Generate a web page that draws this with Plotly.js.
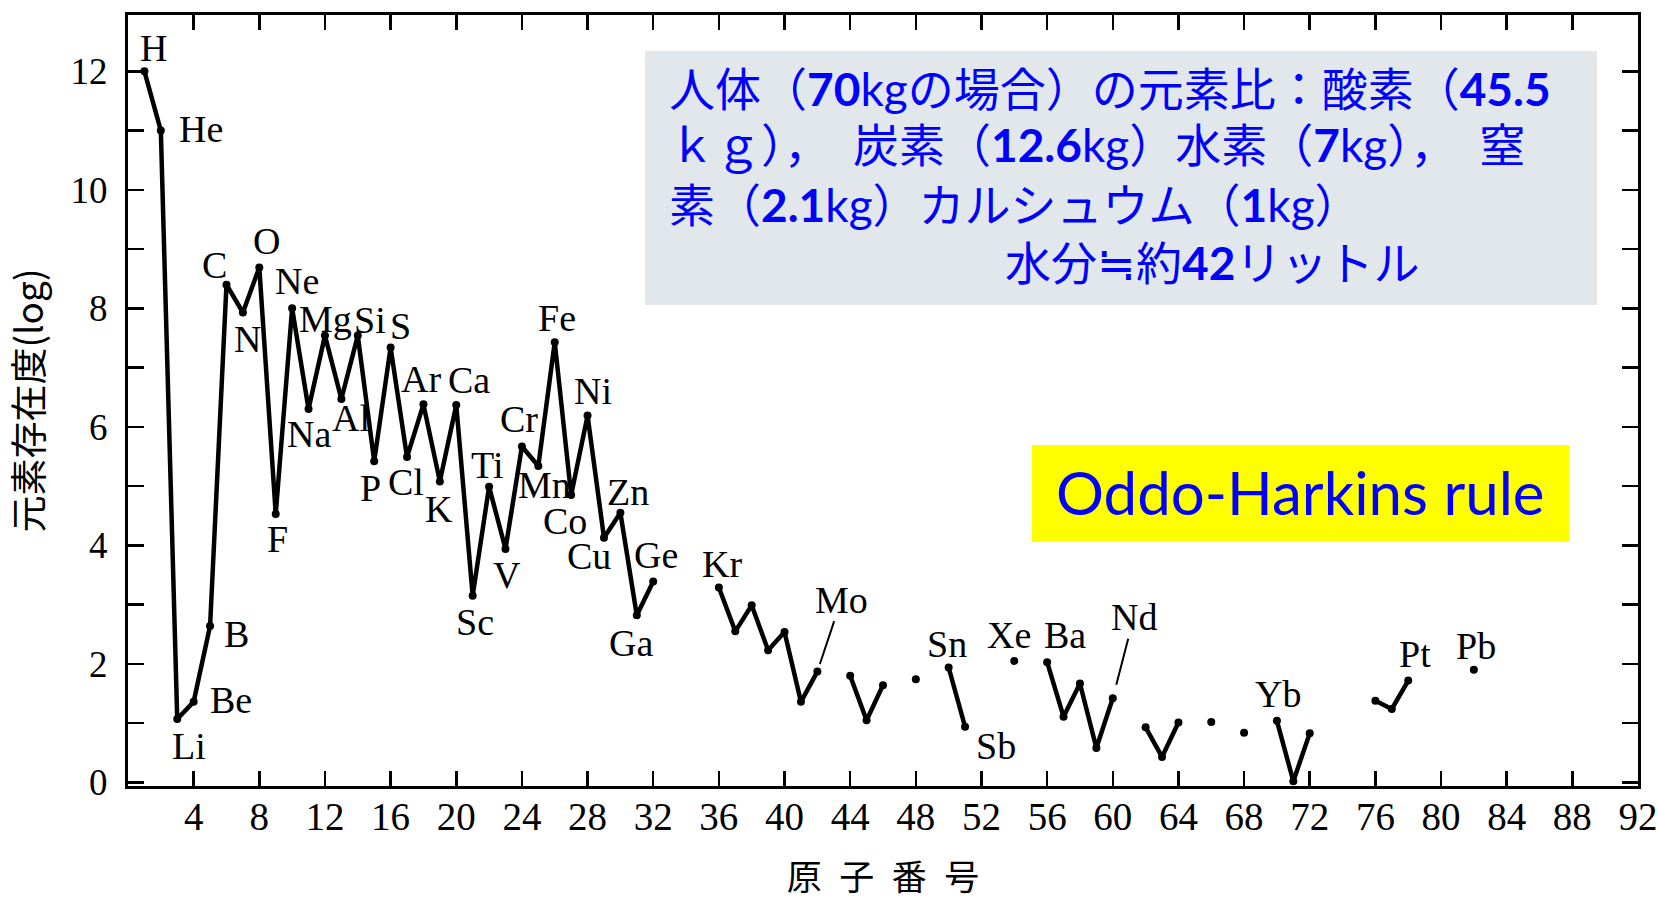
<!DOCTYPE html>
<html>
<head>
<meta charset="utf-8">
<script src="https://cdn.plot.ly/plotly-3.0.1.min.js"></script>
<style>
html, body { margin: 0; padding: 0; background: #ffffff; }
#chart { width: 1659px; height: 900px; }
</style>
</head>
<body>
<div id="chart"></div>
<script>
// ---------------- data ----------------
const atomicNumbers = [];
for (let z = 1; z <= 82; z++) atomicNumbers.push(z);

const symbols = [
  'H','He','Li','Be','B','C','N','O','F','Ne',
  'Na','Mg','Al','Si','P','S','Cl','Ar','K','Ca',
  'Sc','Ti','V','Cr','Mn','Fe','Co','Ni','Cu','Zn',
  'Ga','Ge','As','Se','Br','Kr','Rb','Sr','Y','Zr',
  'Nb','Mo','Tc','Ru','Rh','Pd','Ag','Cd','In','Sn',
  'Sb','Te','I','Xe','Cs','Ba','La','Ce','Pr','Nd',
  'Pm','Sm','Eu','Gd','Tb','Dy','Ho','Er','Tm','Yb',
  'Lu','Hf','Ta','W','Re','Os','Ir','Pt','Au','Hg',
  'Tl','Pb'
];

// log abundance (null = not plotted)
const abundances = [
  12.00, 11.00, 1.07, 1.36, 2.64, 8.40, 7.93, 8.69, 4.53, 8.00,
  6.30, 7.54, 6.47, 7.54, 5.42, 7.34, 5.49, 6.38, 5.08, 6.37,
  3.15, 4.99, 3.94, 5.67, 5.34, 7.43, 4.85, 6.19, 4.13, 4.55,
  2.82, 3.39, null, null, null, 3.29, 2.55, 2.99, 2.23, 2.54,
  1.36, 1.87, null, 1.80, 1.05, 1.64, null, 1.74, null, 1.94,
  0.94, null, null, 2.05, null, 2.03, 1.11, 1.67, 0.58, 1.42,
  null, 0.93, 0.43, 1.01, null, 1.02, null, 0.84, null, 1.04,
  0.02, 0.83, null, null, null, 1.38, 1.24, 1.72, null, null,
  null, 1.90
];

const xTickVals = [4, 8, 12, 16, 20, 24, 28, 32, 36, 40, 44, 48, 52, 56, 60, 64, 68, 72, 76, 80, 84, 88, 92];
const yTickVals = [0, 1, 2, 3, 4, 5, 6, 7, 8, 9, 10, 11, 12];
const yTickText = ['0', '', '2', '', '4', '', '6', '', '8', '', '10', '', '12'];

const xTitle = '原\u2002子\u2002番\u2002号';
const yTitle = '元素存在度(log)';

const infoLines = [
  '人体（<b>70</b>kgの場合）の元素比：酸素（<b>45.5</b>',
  'ｋｇ），\u2002炭素（<b>12.6</b>kg）水素（<b>7</b>kg），\u2002窒',
  '素（<b>2.1</b>kg）カルシュウム（<b>1</b>kg）',
  '水分≒約<b>42</b>リットル'
];
const ruleText = 'Oddo-Harkins rule';

// ---------------- label placement (pixel offsets of label centre from its point) ----------------
const labelOffsets = {
  H: [9, -23], He: [40, -2], Li: [12, 27], Be: [37, -2], B: [26, 8],
  C: [-12, -20], N: [5, 26], O: [7, -26], F: [2, 25], Ne: [5, -27],
  Na: [0, 25], Mg: [1, -17], Al: [10, 19], Si: [12, -16], P: [-4, 27],
  S: [10, -21], Cl: [-1, 25], Ar: [-2, -25], K: [-1, 28], Ca: [13, -25],
  Sc: [2, 26], Ti: [-2, -22], V: [1, 26], Cr: [-3, -27], Mn: [6, 19],
  Fe: [2, -24], Co: [-6, 26], Ni: [5, -25], Cu: [-15, 18], Zn: [8, -21],
  Ga: [-6, 28], Ge: [3, -27], Kr: [3, -23], Sn: [-2, -23], Sb: [31, 19],
  Xe: [-5, -26], Ba: [18, -27], Yb: [1, -27], Pt: [7, -27], Pb: [2, -24]
};
// labels joined to their point by a leader line: [dx, dy, standoff]
const leaderLabels = { Mo: [24, -72, 8], Nd: [21, -81, 14] };

const serif = 'Liberation Serif, DejaVu Serif, serif';
const cjk = 'Noto Sans CJK JP, sans-serif';
const boxFont = 'Lato, Noto Sans CJK JP, sans-serif';

// ---------------- build ----------------
const W = 1659, H = 900;
const M = { l: 128, r: 21, t: 15, b: 114 };
const plotW = W - M.l - M.r, plotH = H - M.t - M.b;
const px = X => (X - M.l) / plotW;          // page x pixel -> paper
const py = Y => (H - M.b - Y) / plotH;      // page y pixel -> paper

const labelFont = { family: serif, size: 38, color: '#000000' };
const annotations = [];
symbols.forEach((sym, i) => {
  const v = abundances[i];
  if (v === null) return;
  if (labelOffsets[sym]) {
    const [dx, dy] = labelOffsets[sym];
    annotations.push({
      x: atomicNumbers[i], y: v, xref: 'x', yref: 'y',
      text: sym, showarrow: false, xanchor: 'center', yanchor: 'middle',
      xshift: dx, yshift: -dy, borderpad: 0,
      font: labelFont
    });
  }
  if (leaderLabels[sym]) {
    const [dx, dy, so] = leaderLabels[sym];
    annotations.push({
      x: atomicNumbers[i], y: v, xref: 'x', yref: 'y',
      text: sym, showarrow: true, arrowhead: 0, arrowwidth: 2, arrowcolor: '#000000',
      ax: dx, ay: dy, standoff: so, borderpad: 0,
      font: labelFont
    });
  }
});

// info text box lines
const infoLineY = [88, 146, 204, 262];
const infoLineX = [668, 668, 668, 1004];
infoLines.forEach((t, k) => {
  annotations.push({
    x: px(infoLineX[k]), y: py(infoLineY[k]), xref: 'paper', yref: 'paper',
    text: t, showarrow: false, xanchor: 'left', yanchor: 'middle', borderpad: 0,
    font: { family: boxFont, size: 46, color: '#0000ff' }
  });
});
annotations.push({
  x: px(1300), y: py(492), xref: 'paper', yref: 'paper',
  text: ruleText, showarrow: false, xanchor: 'center', yanchor: 'middle',
  font: { family: 'Lato, sans-serif', size: 60, color: '#0000ff' }
});

const shapes = [
  { type: 'rect', xref: 'paper', yref: 'paper',
    x0: px(645), x1: px(1597), y0: py(305), y1: py(51),
    fillcolor: '#e1e7eb', line: { width: 0 }, layer: 'below' },
  { type: 'rect', xref: 'paper', yref: 'paper',
    x0: px(1032), x1: px(1569), y0: py(542), y1: py(445),
    fillcolor: '#ffff00', line: { width: 0 }, layer: 'below' }
];

const trace = {
  x: atomicNumbers, y: abundances, type: 'scatter', mode: 'lines+markers',
  connectgaps: false, cliponaxis: false, hoverinfo: 'none',
  line: { color: '#000000', width: 4.5 },
  marker: { color: '#000000', size: 8 }
};

const axisCommon = {
  showline: true, linewidth: 3, linecolor: '#000000', mirror: 'allticks',
  ticks: 'inside', tickwidth: 2.5, tickcolor: '#000000',
  showgrid: false, zeroline: false, fixedrange: true
};

const layout = {
  width: W, height: H, margin: M,
  paper_bgcolor: '#ffffff', plot_bgcolor: '#ffffff', showlegend: false,
  xaxis: Object.assign({}, axisCommon, {
    range: [0, 92], tickmode: 'array', tickvals: xTickVals, ticklen: 15,
    tickfont: { family: serif, size: 39, color: '#000000' },
    ticklabelstandoff: -6,
    title: { text: xTitle, font: { family: cjk, size: 35, color: '#000000' }, standoff: 36 }
  }),
  yaxis: Object.assign({}, axisCommon, {
    range: [-0.06, 12.95], tickmode: 'array', tickvals: yTickVals, ticktext: yTickText, ticklen: 16,
    tickfont: { family: serif, size: 37, color: '#000000' },
    ticklabelstandoff: 10,
    title: { text: yTitle, font: { family: cjk, size: 37, color: '#000000' }, standoff: 16 }
  }),
  shapes: shapes,
  annotations: annotations
};

Plotly.newPlot('chart', [trace], layout, { displayModeBar: false, staticPlot: true });
</script>
</body>
</html>
